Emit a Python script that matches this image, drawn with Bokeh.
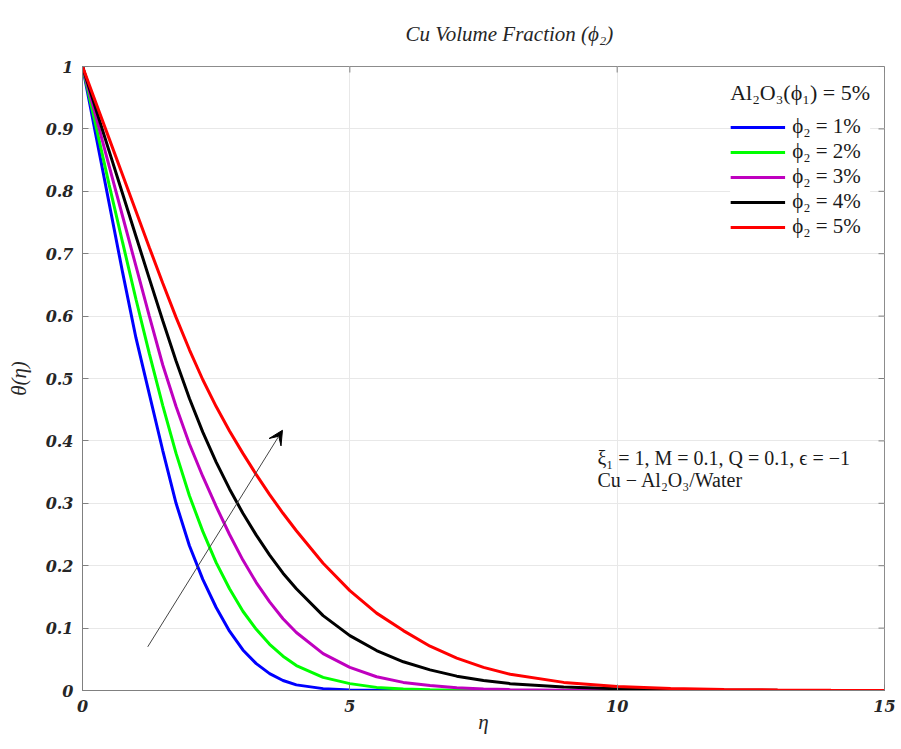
from bokeh.plotting import figure
from bokeh.models import (Range1d, FixedTicker, Legend, LegendItem,
                          Label, Arrow, VeeHead, PrintfTickFormatter)
from bokeh.embed import file_html
from bokeh.resources import INLINE

# ---- data ----
eta = [0, 0.25, 0.5, 0.75, 1, 1.25, 1.5, 1.75, 2, 2.25, 2.5, 2.75, 3, 3.25, 3.5, 3.75,
       4, 4.5, 5, 5.5, 6, 6.5, 7, 7.5, 8, 9, 10, 11, 12, 13, 14, 15]

theta_phi2_1 = [1.0, 0.89, 0.78, 0.67, 0.565, 0.475, 0.385, 0.30, 0.232, 0.178, 0.133, 0.095,
                0.065, 0.043, 0.027, 0.016, 0.009, 0.003, 0.001, 0.0004, 0.0002, 0.0001, 0.0,
                0.0, 0.0, 0.0, 0.0, 0.0, 0.0, 0.0, 0.0, 0.0]
theta_phi2_2 = [1.0, 0.905, 0.81, 0.718, 0.627, 0.54, 0.457, 0.38, 0.312, 0.255, 0.205, 0.163,
                0.127, 0.098, 0.074, 0.055, 0.040, 0.021, 0.011, 0.005, 0.0025, 0.0012, 0.0006,
                0.0003, 0.0001, 0.0, 0.0, 0.0, 0.0, 0.0, 0.0, 0.0]
theta_phi2_3 = [1.0, 0.92, 0.84, 0.76, 0.68, 0.60, 0.522, 0.455, 0.395, 0.343, 0.295, 0.25,
                0.209, 0.173, 0.142, 0.115, 0.093, 0.059, 0.037, 0.022, 0.013, 0.008, 0.0045,
                0.0025, 0.0014, 0.0004, 0.0001, 0.0, 0.0, 0.0, 0.0, 0.0]
theta_phi2_4 = [1.0, 0.932, 0.864, 0.796, 0.728, 0.66, 0.593, 0.528, 0.468, 0.414, 0.366, 0.323,
                0.284, 0.249, 0.217, 0.188, 0.163, 0.12, 0.088, 0.064, 0.046, 0.033, 0.023,
                0.016, 0.011, 0.0055, 0.0027, 0.0013, 0.0006, 0.0003, 0.0001, 0.0]
theta_phi2_5 = [1.0, 0.942, 0.884, 0.826, 0.768, 0.71, 0.653, 0.598, 0.546, 0.498, 0.455, 0.416,
                0.38, 0.346, 0.314, 0.284, 0.256, 0.204, 0.16, 0.124, 0.096, 0.071, 0.052,
                0.037, 0.026, 0.013, 0.0065, 0.0033, 0.0016, 0.0008, 0.0004, 0.0002]

series = [theta_phi2_1, theta_phi2_2, theta_phi2_3, theta_phi2_4, theta_phi2_5]
series_labels = ["ϕ₂ = 1%", "ϕ₂ = 2%", "ϕ₂ = 3%", "ϕ₂ = 4%", "ϕ₂ = 5%"]
series_colors = ["#0000ff", "#00ff00", "#bf00bf", "#000000", "#ff0000"]

x_min, x_max = 0, 15
y_min, y_max = 0, 1
x_ticks = [0, 5, 10, 15]
y_ticks = [0, 0.1, 0.2, 0.3, 0.4, 0.5, 0.6, 0.7, 0.8, 0.9, 1]

legend_title = "Al₂O₃(ϕ₁) = 5%"
title_text = "Cu Volume Fraction (ϕ₂)"
note_lines = ["ξ₁ = 1, M = 0.1, Q = 0.1, ϵ = −1", "Cu − Al₂O₃/Water"]
note_x = [9.63, 9.63]
note_y = [0.372, 0.338]

arrow_start = (1.22, 0.07)
arrow_end = (3.74, 0.417)

# ---- figure ----
W, H = 901, 749
frame_l, frame_r, frame_t, frame_b = 82, 884, 66, 690
p = figure(width=W, height=H, output_backend="svg", toolbar_location=None,
           x_range=Range1d(x_min, x_max), y_range=Range1d(y_min, y_max),
           min_border_left=frame_l, min_border_right=W - frame_r,
           min_border_top=frame_t, min_border_bottom=H - frame_b)
p.background_fill_color = "white"
p.border_fill_color = "white"
p.outline_line_color = "#8c8c8c"
p.outline_line_width = 1

p.title.text = title_text
p.title.align = "left"
p.title.offset = 323
p.title.vertical_align = "top"
p.title.standoff = 38
p.title.text_font = "Liberation Serif"
p.title.text_font_style = "italic"
p.title.text_font_size = "21px"
p.title.text_color = "#262626"

axis_col = "#808080"
tick_font = "DejaVu Serif"
for ax in (p.xaxis[0], p.yaxis[0]):
    ax.axis_line_color = axis_col
    ax.major_tick_line_color = axis_col
    ax.major_tick_in = 6
    ax.major_tick_out = 0
    ax.minor_tick_line_color = None
    ax.major_label_text_font = tick_font
    ax.major_label_text_font_style = "bold italic"
    ax.major_label_text_font_size = "16px"
    ax.major_label_text_color = "#262626"
    ax.axis_label_text_font = "Liberation Serif"
    ax.axis_label_text_font_style = "italic"
    ax.axis_label_text_font_size = "21px"
    ax.axis_label_text_color = "#262626"

p.xaxis[0].ticker = FixedTicker(ticks=x_ticks)
p.yaxis[0].ticker = FixedTicker(ticks=y_ticks)
p.xaxis[0].formatter = PrintfTickFormatter(format="%g")
p.yaxis[0].formatter = PrintfTickFormatter(format="%g")
p.xaxis[0].axis_label = "η"
p.yaxis[0].axis_label = "θ(η)"
p.xaxis[0].major_label_standoff = 9
p.xaxis[0].axis_label_standoff = -5
p.yaxis[0].major_label_standoff = 9
p.yaxis[0].axis_label_standoff = 12

p.xgrid.ticker = FixedTicker(ticks=x_ticks)
p.ygrid.ticker = FixedTicker(ticks=y_ticks)
p.xgrid.grid_line_color = "#e8e8e8"
p.ygrid.grid_line_color = "#e8e8e8"

# inward ticks on the right and top edges (box style)
tick_dx = 6.0 * (x_max - x_min) / (frame_r - frame_l)
tick_dy = 6.0 * (y_max - y_min) / (frame_b - frame_t)
p.segment(x0=[x_max] * len(y_ticks), y0=y_ticks,
          x1=[x_max - tick_dx] * len(y_ticks), y1=y_ticks,
          line_color=axis_col, line_width=1)
p.segment(x0=x_ticks, y0=[y_max] * len(x_ticks),
          x1=x_ticks, y1=[y_max - tick_dy] * len(x_ticks),
          line_color=axis_col, line_width=1)

items = []
for vals, lab, col in zip(series, series_labels, series_colors):
    r = p.line(eta, vals, line_color=col, line_width=3)
    items.append(LegendItem(label=lab, renderers=[r]))

legend = Legend(items=items, location="top_right", title=legend_title)
legend.title_text_font = "Liberation Serif"
legend.title_text_font_style = "normal"
legend.title_text_font_size = "22px"
legend.title_text_color = "#1a1a1a"
legend.title_standoff = 8
legend.label_text_font = "Liberation Serif"
legend.label_text_font_size = "21px"
legend.label_text_color = "#1a1a1a"
legend.glyph_width = 55
legend.glyph_height = 20
legend.label_height = 20
legend.spacing = -1
legend.label_standoff = 7
legend.padding = 4
legend.margin = 14
legend.border_line_color = None
legend.background_fill_color = "white"
legend.background_fill_alpha = 1.0
p.add_layout(legend)

for t, xx, yy in zip(note_lines, note_x, note_y):
    p.add_layout(Label(x=xx, y=yy, text=t, text_font="Liberation Serif",
                       text_font_size="20px", text_color="#1a1a1a", text_baseline="middle"))

p.add_layout(Arrow(x_start=arrow_start[0], y_start=arrow_start[1],
                   x_end=arrow_end[0], y_end=arrow_end[1],
                   line_color="#444444", line_width=1,
                   end=VeeHead(size=14, fill_color="black", line_color="black")))

open("out.html", "w").write(file_html(p, INLINE))
